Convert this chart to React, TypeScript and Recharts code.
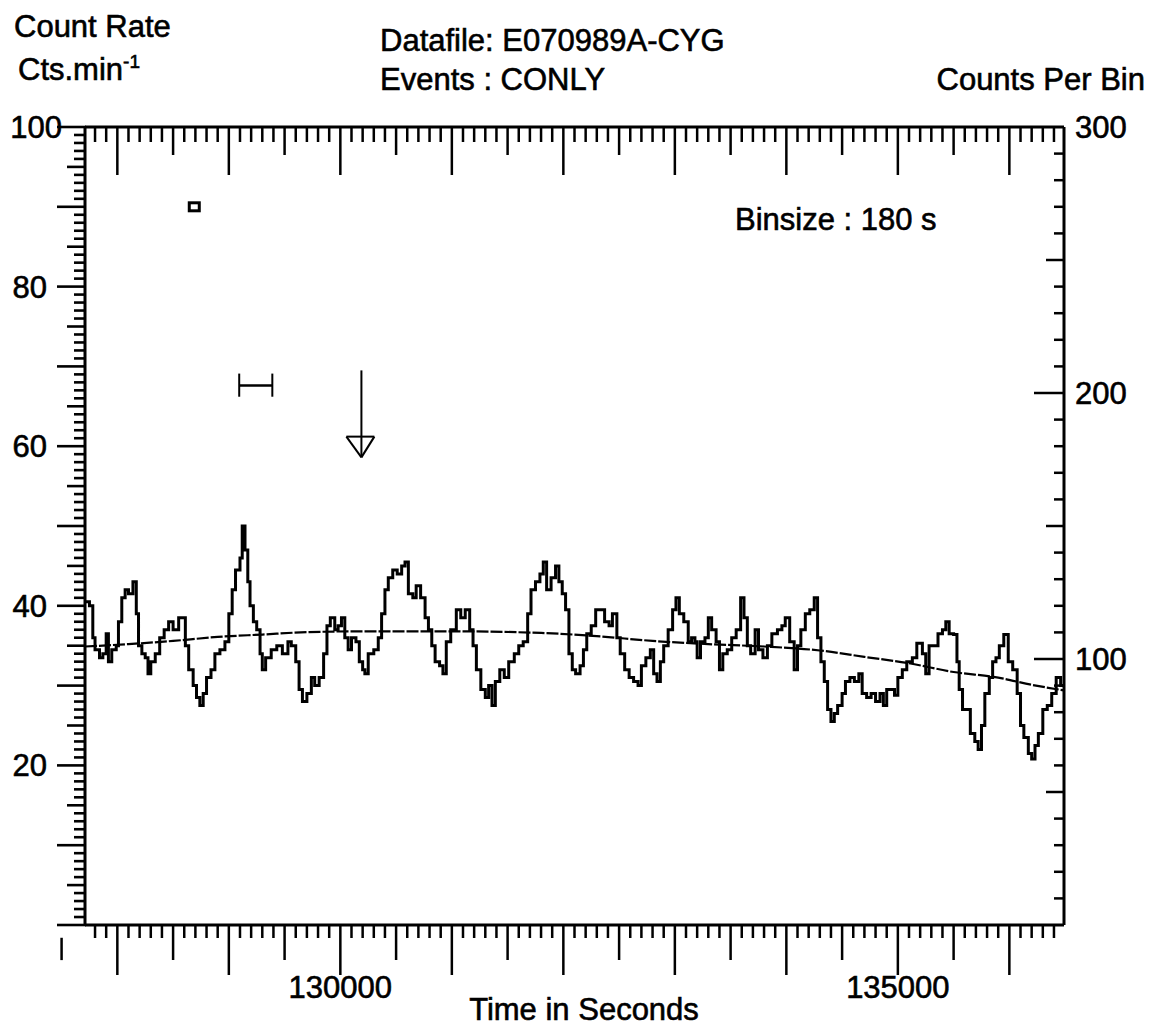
import React from "react";
import { LineChart, Line, XAxis, YAxis, ReferenceLine, ReferenceDot } from "recharts";

const FONT = "'Liberation Sans', Arial, Helvetica, sans-serif";

// light curve, [time in s, count rate in cts/min]
const lightCurve: [number, number][] = [
  [127710, 40.5], [127750, 40], [127780, 36], [127800, 34.5], [127840, 33.5], [127870, 34],
  [127900, 36.5], [127920, 33], [127950, 34.5], [127990, 35], [128010, 38], [128040, 41],
  [128070, 42], [128100, 41.5], [128140, 43], [128170, 39], [128190, 35], [128220, 34],
  [128250, 33.5], [128275, 31.5], [128300, 33], [128340, 34], [128380, 36], [128420, 37],
  [128460, 38], [128500, 37], [128550, 38.5], [128590, 38.5], [128610, 35], [128640, 32],
  [128680, 30], [128710, 28.5], [128740, 27.5], [128770, 29], [128800, 31], [128840, 32],
  [128875, 34], [128920, 34.5], [128965, 35.5], [129000, 39], [129030, 42], [129060, 44.5],
  [129100, 46], [129120, 50], [129145, 47], [129170, 43], [129190, 40], [129220, 38],
  [129250, 37], [129280, 34], [129300, 32], [129330, 33.5], [129380, 34.5], [129430, 35],
  [129480, 34], [129530, 35.5],
  [129560, 35], [129600, 33], [129630, 29.5], [129660, 28], [129700, 29], [129740, 31],
  [129770, 30], [129810, 31], [129850, 34], [129880, 37.5], [129910, 38.5], [129950, 37],
  [129980, 37.5], [130010, 38.5], [130040, 36], [130070, 34.5], [130100, 36], [130140, 35.5],
  [130170, 33], [130200, 32], [130220, 31.5], [130250, 34], [130300, 34.5], [130340, 36],
  [130370, 39], [130400, 42], [130430, 43.5], [130470, 44.5], [130510, 44], [130550, 45],
  [130580, 45.5], [130610, 41.5], [130650, 41], [130680, 42.5], [130720, 41], [130760, 38.5],
  [130790, 37], [130820, 35], [130850, 33], [130890, 32.5], [130920, 31.5], [130950, 35.5],
  [130990, 37], [131040, 39.5], [131080, 38.5], [131120, 39.5], [131160, 37], [131190, 35],
  [131220, 32], [131260, 29.5], [131300, 28.5],
  [131330, 30], [131360, 27.5], [131390, 30.5], [131430, 32], [131470, 31], [131510, 33],
  [131560, 34], [131600, 35], [131640, 35.5], [131680, 39], [131710, 42], [131750, 43],
  [131790, 44], [131820, 45.5], [131850, 42], [131890, 43.5], [131930, 45], [131960, 43],
  [131990, 41.5], [132020, 39.5], [132050, 34], [132080, 32], [132110, 31.5], [132150, 32.5],
  [132180, 34.5], [132210, 36.5], [132250, 37.5], [132290, 39.5], [132330, 39.5], [132370, 38],
  [132410, 37.5], [132440, 39], [132480, 36], [132510, 34], [132550, 32], [132590, 31],
  [132630, 30.5], [132670, 30], [132700, 32.5], [132740, 33.5], [132780, 34.5], [132810, 31.5],
  [132840, 30.5], [132870, 33], [132900, 35], [132940, 37], [132980, 39.5], [133010, 41],
  [133040, 39], [133080, 38], [133120, 35.5],
  [133150, 36], [133180, 35.5], [133200, 33.5], [133230, 35.5], [133270, 36], [133300, 38.5],
  [133330, 37], [133370, 35.5], [133400, 32], [133430, 34], [133470, 34.5], [133510, 36],
  [133550, 37], [133590, 41], [133620, 38.5], [133650, 35], [133680, 34], [133720, 37],
  [133750, 34.5], [133790, 33.5], [133830, 35], [133870, 36.5], [133920, 37], [133960, 37.5],
  [133990, 38.5], [134030, 35.5], [134070, 32], [134100, 35], [134130, 37], [134170, 39],
  [134210, 39.5], [134250, 41], [134280, 36], [134310, 33], [134340, 30.5], [134370, 27],
  [134400, 25.5], [134430, 26.5], [134460, 27.5], [134500, 29], [134530, 30.5], [134570, 31],
  [134610, 30.5], [134650, 31.5], [134680, 29], [134720, 28.5], [134760, 29], [134800, 28],
  [134840, 29], [134870, 27.5], [134900, 29.5],
  [134930, 29.5], [134970, 28.8], [135000, 31], [135040, 32], [135080, 33], [135130, 33.5],
  [135170, 35.3], [135220, 34], [135250, 31.5], [135280, 35], [135320, 35], [135360, 36.5],
  [135400, 37], [135430, 38], [135460, 36.5], [135500, 36.4], [135530, 33], [135550, 29.5],
  [135580, 27], [135620, 27], [135650, 24], [135690, 23], [135720, 22], [135750, 25],
  [135780, 29], [135820, 31], [135850, 33], [135880, 33.5], [135910, 35], [135950, 36.4],
  [135990, 33], [136030, 32], [136070, 29], [136100, 25], [136130, 23.5], [136170, 21.5],
  [136200, 20.8], [136230, 22.5], [136260, 24], [136300, 27], [136340, 27.5], [136380, 29],
  [136420, 31], [136460, 30], [136500, 30],
];

// fitted background trend
const trendFit: [number, number][] = [
  [127710, 34.9], [128100, 35.2], [128500, 35.6], [128900, 36.1], [129300, 36.4],
  [129700, 36.7], [130200, 36.8], [131000, 36.8], [131800, 36.6], [132300, 36.2],
  [132800, 35.6], [133300, 35.2], [133800, 34.9], [134300, 34.4], [134700, 33.6],
  [135100, 32.8], [135500, 31.7], [135900, 31.0], [136200, 30.1], [136490, 29.4],
];

const timeDomain: [number, number] = [127710, 136490];
const timeLabels = [130000, 135000];
const rateLabels = [20, 40, 60, 80, 100];
const binLabels = [100, 200, 300];

// markers drawn on the plot (time s, rate)
const boxMarker = { t: 128690, rate: 90 };
const errorBar = { t0: 129093, t1: 129390, rate: 67.6, capLo: 66.2, capHi: 69.1 };
const arrowMark = { t: 130189, top: 69.5, tip: 58.6, head: 61.2, left: 130054, right: 130305 };

const timeTicks: number[] = [];
for (let t = 127800; t <= 136400; t += 100) timeTicks.push(t);
const rateTicks: number[] = [];
for (let r = 0; r <= 100; r += 1) rateTicks.push(r);
const binTicks: number[] = [];
for (let b = 0; b <= 300; b += 10) binTicks.push(b);

const curveRows = lightCurve.map(([t, rate]) => ({ t, rate }));
const trendRows = trendFit.map(([t, fit]) => ({ t, fit }));

const ink = "#000";
const labelStyle = {
  fontFamily: FONT,
  fontSize: 31,
  fill: ink,
  stroke: ink,
  strokeWidth: 0.6,
};
const noText = () => "";

function BottomTick(props: any) {
  const { x, y, payload } = props;
  const v = payload.value;
  const len = v % 1000 === 0 ? 50 : v % 500 === 0 ? 35 : 13;
  return (
    <g>
      <line x1={x} y1={y} x2={x} y2={y + len} stroke={ink} strokeWidth={2.5} />
      {timeLabels.includes(v) && (
        <text x={x} y={y + 73} textAnchor="middle" {...labelStyle}>
          {v}
        </text>
      )}
    </g>
  );
}

function TopTick(props: any) {
  const { x, y, payload } = props;
  const v = payload.value;
  const len = v % 1000 === 0 ? 48 : v % 500 === 0 ? 28 : 15;
  return <line x1={x} y1={y} x2={x} y2={y + len} stroke={ink} strokeWidth={2.5} />;
}

// left rate axis: every 1 cts/min, longer at 5 and 10; drawn as a path so
// each mark is one closed stroke starting away from the axis line
function LeftTick(props: any) {
  const { x, y, payload } = props;
  const v = Math.round(payload.value);
  const len = v % 10 === 0 ? 28 : v % 5 === 0 ? 18 : 11;
  return (
    <g>
      <path d={`M${x - len},${y}H${x + 1}`} stroke={ink} strokeWidth={2.6} fill="none" />
      {rateLabels.includes(v) && (
        <text x={v === 100 ? x - 23 : x - 38} y={y} dy={11} textAnchor="end" {...labelStyle}>
          {v}
        </text>
      )}
    </g>
  );
}

function RightTick(props: any) {
  const { x, y, payload } = props;
  const v = payload.value;
  const len = v % 100 === 0 ? 30 : v % 50 === 0 ? 18 : 10;
  return (
    <g>
      {v % 300 !== 0 && <line x1={x - len} y1={y} x2={x} y2={y} stroke={ink} strokeWidth={2.5} />}
      {binLabels.includes(v) && (
        <text x={x + 11} y={y} dy={11} textAnchor="start" {...labelStyle}>
          {v}
        </text>
      )}
    </g>
  );
}

const BoxShape = (p: any) => (
  <rect x={p.cx - 5} y={p.cy - 4} width={10} height={8} fill="#fff" stroke={ink} strokeWidth={3} />
);

export default function App() {
  const seg = (a: { x: number; y: number }, b: { x: number; y: number }, w = 2) => (
    <ReferenceLine
      xAxisId="bottom"
      yAxisId="left"
      segment={[a, b]}
      stroke={ink}
      strokeWidth={w}
      ifOverflow="visible"
    />
  );
  const axisLine = { stroke: ink, strokeWidth: 3 };
  return (
    <div style={{ position: "absolute", left: 0, top: 0, width: 1155, height: 1028, background: "#fff" }}>
      <LineChart width={1155} height={1028} margin={{ top: 97, right: 0, bottom: 0, left: 0 }}>
        <XAxis
          xAxisId="bottom"
          type="number"
          dataKey="t"
          domain={timeDomain}
          allowDataOverflow
          ticks={timeTicks}
          interval={0}
          minTickGap={0}
          tickFormatter={noText}
          tickSize={0}
          tickMargin={0}
          tick={<BottomTick />}
          height={103}
          axisLine={axisLine}
        />
        <XAxis
          xAxisId="top"
          orientation="top"
          type="number"
          dataKey="t"
          domain={timeDomain}
          allowDataOverflow
          ticks={timeTicks}
          interval={0}
          minTickGap={0}
          tickFormatter={noText}
          tickSize={0}
          tickMargin={0}
          tick={<TopTick />}
          height={30}
          axisLine={axisLine}
        />
        <YAxis
          yAxisId="left"
          type="number"
          domain={[0, 100]}
          allowDataOverflow
          allowDecimals
          ticks={rateTicks}
          tickCount={101}
          interval={0}
          minTickGap={0}
          tickFormatter={noText}
          tickSize={0}
          tickMargin={0}
          tick={<LeftTick />}
          width={85}
          axisLine={axisLine}
        />
        <YAxis
          yAxisId="right"
          orientation="right"
          type="number"
          domain={[0, 300]}
          allowDataOverflow
          ticks={binTicks}
          interval={0}
          minTickGap={0}
          tickFormatter={noText}
          tickSize={0}
          tickMargin={0}
          tick={<RightTick />}
          width={91}
          axisLine={axisLine}
        />
        {/* hidden copy on the top time axis so that axis gets its ticks */}
        <Line
          xAxisId="top"
          yAxisId="left"
          data={trendRows}
          dataKey="fit"
          stroke="none"
          dot={false}
          activeDot={false}
          legendType="none"
          isAnimationActive={false}
        />
        <Line
          xAxisId="bottom"
          yAxisId="left"
          data={trendRows}
          dataKey="fit"
          type="monotone"
          stroke={ink}
          strokeWidth={2.2}
          strokeDasharray="12 2"
          dot={false}
          isAnimationActive={false}
        />
        <Line
          xAxisId="bottom"
          yAxisId="left"
          data={curveRows}
          dataKey="rate"
          type="stepAfter"
          stroke={ink}
          strokeWidth={3}
          dot={false}
          isAnimationActive={false}
        />
        <ReferenceDot
          xAxisId="bottom"
          yAxisId="left"
          x={boxMarker.t}
          y={boxMarker.rate}
          shape={BoxShape}
          ifOverflow="visible"
        />
        {seg({ x: errorBar.t0, y: errorBar.rate }, { x: errorBar.t1, y: errorBar.rate }, 2.5)}
        {seg({ x: errorBar.t0, y: errorBar.capLo }, { x: errorBar.t0, y: errorBar.capHi })}
        {seg({ x: errorBar.t1, y: errorBar.capLo }, { x: errorBar.t1, y: errorBar.capHi })}
        {seg({ x: arrowMark.t, y: arrowMark.top }, { x: arrowMark.t, y: arrowMark.tip })}
        {seg({ x: arrowMark.left, y: arrowMark.head }, { x: arrowMark.right, y: arrowMark.head })}
        {seg({ x: arrowMark.left, y: arrowMark.head }, { x: arrowMark.t, y: arrowMark.tip })}
        {seg({ x: arrowMark.right, y: arrowMark.head }, { x: arrowMark.t, y: arrowMark.tip })}
        {seg({ x: 127500, y: -1.6 }, { x: 127500, y: -4.4 }, 2.5)}
      </LineChart>
      <svg
        width={1155}
        height={1028}
        style={{ position: "absolute", left: 0, top: 0, pointerEvents: "none" }}
      >
        <text x={14} y={37} {...labelStyle}>Count Rate</text>
        <text x={18} y={80} {...labelStyle}>
          Cts.min
          <tspan fontSize={19} dy={-12}>-1</tspan>
        </text>
        <text x={380} y={51} {...labelStyle}>Datafile: E070989A-CYG</text>
        <text x={380} y={90} {...labelStyle}>Events : CONLY</text>
        <text x={1145} y={90} textAnchor="end" {...labelStyle}>Counts Per Bin</text>
        <text x={735} y={230} {...labelStyle}>Binsize : 180 s</text>
        <text x={584} y={1020} textAnchor="middle" {...labelStyle}>Time in Seconds</text>
      </svg>
    </div>
  );
}
